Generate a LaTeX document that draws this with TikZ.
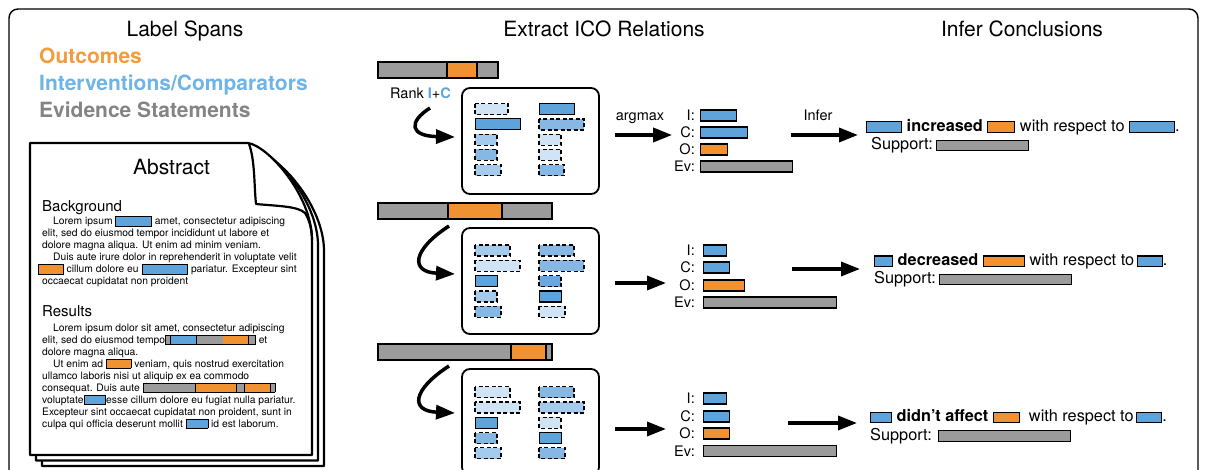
\documentclass[tikz,border=0pt]{standalone}
\usepackage{fontspec}
\setmainfont{TeX Gyre Heros}
\usepackage{xcolor}
\usetikzlibrary{arrows.meta, positioning, calc}

\definecolor{ocorange}{RGB}{240,146,50}
\definecolor{icblue}{RGB}{94,163,218}
\definecolor{evgray}{RGB}{155,155,155}
\definecolor{octext}{RGB}{243,156,62}
\definecolor{ictext}{RGB}{110,180,230}
\definecolor{evtext}{RGB}{132,132,132}
\definecolor{bvl}{RGB}{208,228,245}
\definecolor{blt}{RGB}{165,203,236}
\definecolor{bmd}{RGB}{134,184,227}
\definecolor{bdk}{RGB}{108,168,221}

% inline span boxes
\newcommand\spanbox[2]{{\setlength\fboxsep{0pt}\setlength\fboxrule{0.8pt}\fcolorbox{black}{#1}{\rule[-0.9pt]{0pt}{8.6pt}\hspace{#2}}}}
\newcommand\spanseg[2]{\textcolor{#1}{\rule[-0.9pt]{#2}{8.6pt}}}
\newcommand\segsep{\vrule width 0.8pt}
\newcommand\spanbig[2]{{\setlength\fboxsep{0pt}\setlength\fboxrule{1pt}\fcolorbox{black}{#1}{\rule[-0.5pt]{0pt}{9.5pt}\hspace{#2}}}}

\begin{document}
\begin{tikzpicture}[
    x=1pt, y=-1pt,
    title/.style={font=\fontsize{21}{25}\selectfont, inner sep=0pt, anchor=base},
    legend/.style={font=\fontsize{21}{25}\selectfont\bfseries, inner sep=0pt, anchor=base west},
    head/.style={font=\fontsize{15}{18}\selectfont, inner sep=0pt, anchor=base west},
    body/.style={font=\fontsize{10.3}{12}\selectfont, inner sep=0pt, anchor=base west, align=left},
    lbl/.style={font=\fontsize{14.5}{17}\selectfont, inner sep=0pt, anchor=east},
    sent/.style={font=\fontsize{16.3}{18.5}\selectfont, inner sep=0pt, anchor=base west, align=left},
    page/.style={draw=black, fill=white, line width=2.2pt, line join=round},
    extbox/.style={draw=black, rounded corners=8pt, line width=1.8pt, minimum width=137pt, minimum height=106pt},
    evbar/.style={draw=black, fill=evgray, line width=1.2pt},
    ocbar/.style={draw=black, fill=ocorange, line width=1.2pt},
    icobar/.style={draw=black, line width=1.2pt, minimum height=11pt, inner sep=0pt},
    hsol/.style={draw=black, fill=icblue, line width=1.2pt},
    hdash/.style={draw=black, line width=1.3pt, dash pattern=on 4pt off 2.5pt},
    hvl/.style={hdash, fill=bvl},
    hlt/.style={hdash, fill=blt},
    hmd/.style={hdash, fill=bmd},
    hdk/.style={hdash, fill=bdk},
    fatarrow/.style={-{Triangle[length=19pt,width=14pt]}, line width=3.5pt}
]
\useasboundingbox (0,0) rectangle (1205,470);
\clip (0,0) rectangle (1205,470);

% outer frame
\draw[line width=1.4pt, rounded corners=9pt] (9,480) -- (9,9) -- (1198,9) -- (1198,480);

% column titles
\node[title] (t1) at (185,37) {Label Spans};
\node[title] (t2) at (604,37) {Extract ICO Relations};
\node[title] (t3) at (1022,37) {Infer Conclusions};

% legend
\node[legend, text=octext] (lg1) at (39,64) {Outcomes};
\node[legend, text=ictext] (lg2) at (39,91) {Interventions/Comparators};
\node[legend, text=evtext] (lg3) at (39,118) {Evidence Statements};

% stack of pages
\foreach \dx/\dy in {12/11, 6/5.5, 0/0} {
  \begin{scope}[shift={(\dx,\dy)}]
    \draw[page] (30,143) -- (248,143) .. controls (268,146) and (312,195) .. (312,240) -- (312,455) -- (30,455) -- cycle;
  \end{scope}
}
% folded corner
\draw[page, fill=none] (249,144) .. controls (255,160) and (254,185) .. (256,204) .. controls (276,206) and (298,206) .. (305,213) .. controls (309,219) and (312,229) .. (312,240);

% abstract text (multi-line nodes sit on their last baseline)
\node[title] (abs) at (171.5,175) {Abstract};
\node[head] (bg) at (42,212) {Background};
\node[body] (bgtxt) at (42,285) {\hspace{11pt}Lorem ipsum \spanbox{icblue}{35pt} amet, consectetur adipiscing\\
elit, sed do eiusmod tempor incididunt ut labore et\\
dolore magna aliqua. Ut enim ad minim veniam.\\
\hspace{11pt}Duis aute irure dolor in reprehenderit in voluptate velit\\
\hspace{-4pt}\spanbox{ocorange}{24pt} cillum dolore eu \spanbox{icblue}{45pt} pariatur. Excepteur sint\\
occaecat cupidatat non proident};
\node[head] (res) at (42,317) {Results};
\node[body] (restxt) at (42,427) {\hspace{11pt}Lorem ipsum dolor sit amet, consectetur adipiscing\\
elit, sed do eiusmod tempo{\setlength\fboxsep{0pt}\setlength\fboxrule{0.8pt}\fcolorbox{black}{evgray}{\spanseg{evgray}{4pt}\segsep\spanseg{icblue}{25pt}\segsep\spanseg{evgray}{26pt}\segsep\spanseg{ocorange}{25pt}\segsep\spanseg{evgray}{6pt}}} et\\
dolore magna aliqua.\\
\hspace{11pt}Ut enim ad \spanbox{ocorange}{24pt} veniam, quis nostrud exercitation\\
ullamco laboris nisi ut aliquip ex ea commodo\\
consequat. Duis aute {\setlength\fboxsep{0pt}\setlength\fboxrule{0.8pt}\fcolorbox{black}{evgray}{\spanseg{evgray}{52pt}\segsep\spanseg{ocorange}{40pt}\segsep\spanseg{evgray}{7pt}\segsep\spanseg{ocorange}{25pt}\segsep\spanseg{evgray}{4pt}}}\\
voluptate\spanbox{icblue}{21pt}esse cillum dolore eu fugiat nulla pariatur.\\
Excepteur sint occaecat cupidatat non proident, sunt in\\
culpa qui officia deserunt mollit \spanbox{icblue}{21pt} id est laborum.};

% Row 1: span bar, ranking box
\draw[evbar] (378,62) rectangle (498,78);
\draw[ocbar] (447,62) rectangle (477,78);
\node[lbl, anchor=base west] (rank) at (390,99) {Rank \textcolor{icblue}{\textbf{I}}+\textcolor{icblue}{\textbf{C}}};
\node[extbox] (ext1) at (530.5,141) {};
\begin{scope}[shift={(ext1.north west)}]
  \foreach \s/\w [count=\i from 0] in {hvl/33, hsol/45, hlt/22, hmd/22, hlt/26}
    \draw[\s] (14,{16.5+15.3*\i}) rectangle ++(\w,11);
  \foreach \s/\w [count=\i from 0] in {hsol/35, hmd/45, hvl/22, hvl/22, hmd/25}
    \draw[\s] (78,{16.5+15.3*\i}) rectangle ++(\w,11);
\end{scope}
\coordinate (cs1) at (430,108);
\coordinate (ce1) at (455,137);
\draw[fatarrow] (cs1) .. controls (408,122) and (410,136) .. (ce1);

% Row 2
\draw[evbar] (378,203) rectangle (552,219);
\draw[ocbar] (448,203) rectangle (502,219);
\node[extbox] (ext2) at (530.5,281) {};
\begin{scope}[shift={(ext2.north west)}]
  \foreach \s/\w [count=\i from 0] in {hlt/35, hvl/45, hsol/22, hlt/22, hmd/26}
    \draw[\s] (14,{18+15.3*\i}) rectangle ++(\w,11);
  \foreach \s/\w [count=\i from 0] in {hmd/35, hmd/45, hdk/22, hsol/22, hvl/26}
    \draw[\s] (78,{18+15.3*\i}) rectangle ++(\w,11);
\end{scope}
\coordinate (cs2) at (449,226);
\coordinate (ce2) at (455,274);
\draw[fatarrow] (cs2) .. controls (412,250) and (410,272) .. (ce2);

% Row 3
\draw[evbar] (378,344) rectangle (552,360);
\draw[ocbar] (511,344) rectangle (546,360);
\node[extbox] (ext3) at (530.5,422) {};
\begin{scope}[shift={(ext3.north west)}]
  \foreach \s/\w [count=\i from 0] in {hvl/35, hvl/45, hsol/22, hmd/22, hlt/26}
    \draw[\s] (14,{18.5+15.3*\i}) rectangle ++(\w,11);
  \foreach \s/\w [count=\i from 0] in {hmd/35, hlt/45, hvl/22, hsol/22, hmd/26}
    \draw[\s] (78,{18.5+15.3*\i}) rectangle ++(\w,11);
\end{scope}
\coordinate (cs3) at (449,366);
\coordinate (ce3) at (455,413);
\draw[fatarrow] (cs3) .. controls (412,390) and (410,411) .. (ce3);

% ICO relations, row 1
\node[lbl] (i1) at (695,115.5) {I:};
\node[lbl] (c1) at (695,132.5) {C:};
\node[lbl] (o1) at (695,149.5) {O:};
\node[lbl] (e1) at (695,166.5) {Ev:};
\node[icobar, fill=icblue, minimum width=36pt, right=5pt of i1] (ib1) {};
\node[icobar, fill=icblue, minimum width=47pt, right=5pt of c1] (cb1) {};
\node[icobar, fill=ocorange, minimum width=27pt, right=5pt of o1] (ob1) {};
\node[icobar, fill=evgray, minimum width=92pt, right=5pt of e1] (eb1) {};

% ICO relations, row 2
\node[lbl] (i2) at (695,250.5) {I:};
\node[lbl] (c2) at (695,267.5) {C:};
\node[lbl] (o2) at (695,285.5) {O:};
\node[lbl] (e2) at (695,302.5) {Ev:};
\node[icobar, fill=icblue, minimum width=23pt, right=8pt of i2] (ib2) {};
\node[icobar, fill=icblue, minimum width=26pt, right=8pt of c2] (cb2) {};
\node[icobar, fill=ocorange, minimum width=41pt, right=8pt of o2] (ob2) {};
\node[icobar, fill=evgray, minimum width=133pt, right=8pt of e2] (eb2) {};

% ICO relations, row 3
\node[lbl] (i3) at (695,398.5) {I:};
\node[lbl] (c3) at (695,416.5) {C:};
\node[lbl] (o3) at (695,433.5) {O:};
\node[lbl] (e3) at (695,451) {Ev:};
\node[icobar, fill=icblue, minimum width=23pt, right=8pt of i3] (ib3) {};
\node[icobar, fill=icblue, minimum width=26pt, right=8pt of c3] (cb3) {};
\node[icobar, fill=ocorange, minimum width=26pt, right=8pt of o3] (ob3) {};
\node[icobar, fill=evgray, minimum width=133pt, right=8pt of e3] (eb3) {};

% argmax arrows
\node[lbl, anchor=base] (amx) at (640,121) {argmax};
\coordinate (am1) at (615,135);
\coordinate (am2) at (615,283);
\coordinate (am3) at (615,429);
\draw[fatarrow] (am1) -- ([xshift=-8pt]am1 -| c1.west);
\draw[fatarrow] (am2) -- ([xshift=-8pt]am2 -| e2.west);
\draw[fatarrow] (am3) -- ([xshift=-8pt]am3 -| e3.west);

% conclusions (placed on the Support baseline)
\node[sent] (concl1) at (866,150) {\spanbig{icblue}{34pt} \textbf{increased} \spanbig{ocorange}{26pt} with respect to \spanbig{icblue}{44pt}.\\
\hspace{5pt}Support:\,\spanbig{evgray}{91pt}};
\node[sent] (concl2) at (874,284) {\spanbig{icblue}{17pt} \textbf{decreased} \spanbig{ocorange}{40pt} with respect to\,\spanbig{icblue}{24pt}.\\
Support:\,\spanbig{evgray}{131pt}};
\node[sent] (concl3) at (870,440) {\spanbig{icblue}{20pt} \textbf{didn't affect} \spanbig{ocorange}{25pt} \ with respect to\,\spanbig{icblue}{24pt}.\\
Support: \spanbig{evgray}{131pt}};

% infer arrows
\node[lbl, anchor=base] (inf) at (818,121) {Infer};
\coordinate (if1) at (791,135);
\coordinate (if2) at (792,269);
\coordinate (if3) at (788,423);
\draw[fatarrow] (if1) -- ([xshift=-8pt]if1 -| concl1.west);
\draw[fatarrow] (if2) -- ([xshift=-14pt]if2 -| concl2.west);
\draw[fatarrow] (if3) -- ([xshift=-13pt]if3 -| concl3.west);

\end{tikzpicture}
\end{document}
